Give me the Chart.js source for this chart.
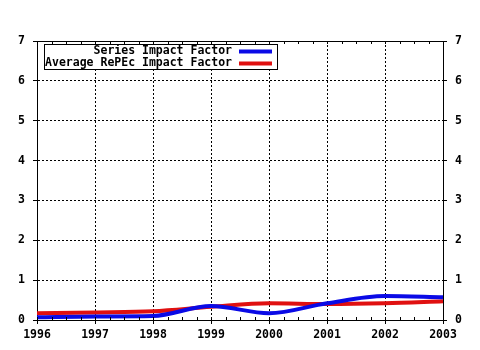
<!DOCTYPE html>
<html>
<head>
<meta charset="utf-8">
<title>Impact Factor</title>
<script src="https://cdn.jsdelivr.net/npm/chart.js@4.4.0/dist/chart.umd.min.js"></script>
<style>
  html, body { margin: 0; padding: 0; background: #fff; }
  #chart { display: block; }
</style>
</head>
<body>
<canvas id="chart" width="480" height="350"></canvas>
<script>
/* ---- Dados ---- */
const years        = [1996, 1997, 1998, 1999, 2000, 2001, 2002, 2003];
const seriesImpact = [0.07, 0.09, 0.10, 0.35, 0.17, 0.42, 0.60, 0.57];
const repecImpact  = [0.17, 0.19, 0.22, 0.33, 0.42, 0.40, 0.42, 0.47];
const yTicks       = [0, 1, 2, 3, 4, 5, 6, 7];

const FONT = { family: '"DejaVu Sans Mono", monospace', size: 11.5, weight: 'bold' };

const toPoints = vals => years.map((x, i) => ({ x, y: vals[i] }));

/* ---- Legenda desenhada no canvas (texto à direita, amostra de linha) ---- */
const boxLegend = {
  id: 'boxLegend',
  afterDraw(chart) {
    const { ctx } = chart;
    const left = 44, top = 44, right = 277, bottom = 69;
    ctx.save();
    ctx.fillStyle = '#fff';
    ctx.fillRect(left, top, right - left, bottom - top);
    ctx.beginPath();
    ctx.rect(left + 0.5, top + 0.5, right - left, bottom - top);
    ctx.clip();
    ctx.font = `bold ${FONT.size}px ${FONT.family}`;
    ctx.textAlign = 'right';
    ctx.textBaseline = 'middle';
    chart.data.datasets.forEach((ds, i) => {
      const y = 51.5 + i * 12;
      ctx.fillStyle = '#000';
      ctx.fillText(ds.label, 232, y);
      ctx.strokeStyle = ds.borderColor;
      ctx.lineWidth = 4;
      ctx.beginPath();
      ctx.moveTo(239, y);
      ctx.lineTo(272, y);
      ctx.stroke();
    });
    ctx.restore();
    ctx.save();
    ctx.strokeStyle = '#000';
    ctx.lineWidth = 1;
    ctx.strokeRect(left + 0.5, top + 0.5, right - left, bottom - top);
    ctx.restore();
  }
};

/* ---- Marcas menores (trimestres) no topo e na base ---- */
const minorTicks = {
  id: 'minorTicks',
  afterDatasetsDraw(chart) {
    const { ctx, chartArea: a, scales: { x } } = chart;
    ctx.save();
    ctx.strokeStyle = '#000';
    ctx.lineWidth = 1;
    ctx.beginPath();
    for (let v = x.min; v <= x.max + 1e-9; v += 0.25) {
      const px = Math.round(x.getPixelForValue(v)) + 0.5;
      ctx.moveTo(px, a.bottom);
      ctx.lineTo(px, a.bottom - 3);
      ctx.moveTo(px, a.top);
      ctx.lineTo(px, a.top + 3);
    }
    ctx.stroke();
    ctx.restore();
  }
};

const fixSize = size => function (scale) {
  if (scale.isHorizontal()) scale.height = size; else scale.width = size;
};

new Chart(document.getElementById('chart'), {
  type: 'line',
  data: {
    datasets: [
      {
        label: 'Series Impact Factor',
        data: toPoints(seriesImpact),
        borderColor: '#0a0ae6',
        borderWidth: 4,
        cubicInterpolationMode: 'monotone',
        pointRadius: 0,
        fill: false
      },
      {
        label: 'Average RePEc Impact Factor',
        data: toPoints(repecImpact),
        borderColor: '#e01010',
        borderWidth: 4,
        cubicInterpolationMode: 'monotone',
        pointRadius: 0,
        fill: false
      }
    ]
  },
  options: {
    responsive: false,
    animation: false,
    layout: { padding: { top: 41, left: 0, right: 0, bottom: 0 } },
    plugins: {
      legend: { display: false },
      tooltip: { enabled: false }
    },
    scales: {
      x: {
        type: 'linear',
        min: 1996,
        max: 2003,
        afterFit: fixSize(30),
        ticks: { stepSize: 1, color: '#000', font: FONT, padding: 4, callback: v => String(v) },
        grid: { color: '#000', lineWidth: 1, tickLength: 4 },
        border: { color: '#000', width: 1, dash: [2, 2] }
      },
      xTop: {
        type: 'linear',
        position: 'top',
        min: 1996,
        max: 2003,
        afterFit: fixSize(0),
        ticks: { display: false },
        grid: { display: false },
        border: { color: '#000', width: 1 }
      },
      y: {
        min: 0,
        max: 7,
        afterFit: fixSize(37),
        afterBuildTicks: s => { s.ticks = yTicks.map(value => ({ value })); },
        ticks: { color: '#000', font: FONT, padding: 8 },
        grid: { color: '#000', lineWidth: 1, tickLength: 4 },
        border: { color: '#000', width: 1, dash: [2, 2] }
      },
      yRight: {
        position: 'right',
        min: 0,
        max: 7,
        afterFit: fixSize(37),
        afterBuildTicks: s => { s.ticks = yTicks.map(value => ({ value })); },
        ticks: { color: '#000', font: FONT, padding: 8 },
        grid: { drawOnChartArea: false, color: '#000', tickLength: 4 },
        border: { color: '#000', width: 1 }
      }
    }
  },
  plugins: [minorTicks, boxLegend]
});
</script>
</body>
</html>
